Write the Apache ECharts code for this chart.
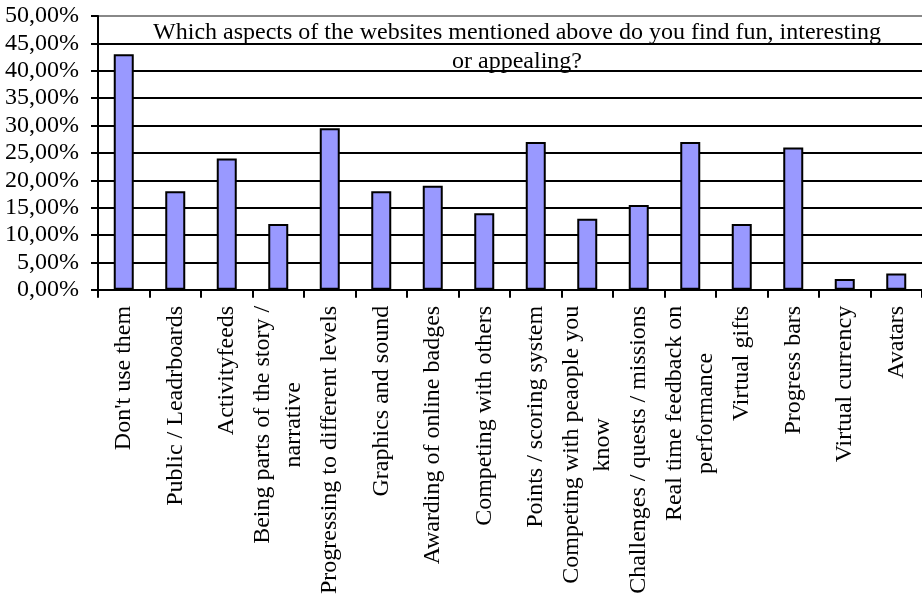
<!DOCTYPE html>
<html>
<head>
<meta charset="utf-8">
<script src="https://cdn.jsdelivr.net/npm/echarts@6/dist/echarts.min.js"></script>
<style>
html,body{margin:0;padding:0;background:#fff;}
#c{width:922px;height:597px;}
</style>
</head>
<body>
<div id="c"></div>
<script>
const titleLines = ["Which aspects of the websites mentioned above do you find fun, interesting", "or appealing?"];
const categories = [
  "Don't use them",
  "Public / Leadrboards",
  "Activityfeeds",
  "Being parts of the story /\nnarrative",
  "Progressing to different levels",
  "Graphics and sound",
  "Awarding of online badges",
  "Competing with others",
  "Points / scoring system",
  "Competing with peaople you\nknow",
  "Challenges / quests / missions",
  "Real time feedback on\nperformance",
  "Virtual gifts",
  "Progress bars",
  "Virtual currency",
  "Avatars"
];
const values = [0.43, 0.18, 0.24, 0.12, 0.295, 0.18, 0.19, 0.14, 0.27, 0.13, 0.155, 0.27, 0.12, 0.26, 0.02, 0.03];
const yTicks = { min: 0, max: 0.5, interval: 0.05 };

const FONT = "'Liberation Serif', 'Times New Roman', serif";
const chart = echarts.init(document.getElementById('c'), null, { renderer: 'canvas' });
const splitColors = [];
for (let i = 0; i < 10; i++) splitColors.push('#000000');
splitColors.push('#888888');

chart.setOption({
  animation: false,
  backgroundColor: '#ffffff',
  title: {
    text: titleLines.join('\n'),
    left: 512,
    textAlign: 'center',
    top: 13,
    textStyle: { fontFamily: FONT, fontSize: 24, fontWeight: 'normal', color: '#000', lineHeight: 29 }
  },
  grid: { left: 98, top: 16, width: 827, height: 276, containLabel: false },
  xAxis: {
    type: 'category',
    data: categories,
    boundaryGap: true,
    axisLine: { show: true, lineStyle: { color: '#000', width: 2 } },
    axisTick: { show: true, length: 8, lineStyle: { color: '#000', width: 2 } },
    axisLabel: {
      interval: 0,
      rotate: 90,
      margin: 16,
      fontFamily: FONT,
      fontSize: 24,
      color: '#000',
      lineHeight: 31,
      formatter: function (v) { return v.split('\n').map(s => '{c|' + s + '}').join('\n'); },
      rich: { c: { align: 'center', fontFamily: FONT, fontSize: 24, color: '#000', lineHeight: 31 } }
    },
    splitLine: { show: false }
  },
  yAxis: {
    type: 'value',
    min: yTicks.min,
    max: yTicks.max,
    interval: yTicks.interval,
    axisLine: { show: true, lineStyle: { color: '#000', width: 2 } },
    axisTick: { show: true, length: 7, lineStyle: { color: '#000', width: 2 } },
    axisLabel: {
      margin: 19,
      fontFamily: FONT,
      fontSize: 24,
      color: '#000',
      formatter: function (v) { return (v * 100).toFixed(2).replace('.', ',') + '%'; }
    },
    splitLine: { show: true, lineStyle: { color: splitColors, width: 2 } }
  },
  series: [{
    type: 'bar',
    data: values,
    barWidth: 20,
    itemStyle: { color: '#9999ff', borderColor: '#000', borderWidth: 2 }
  }]
});
</script>
</body>
</html>
